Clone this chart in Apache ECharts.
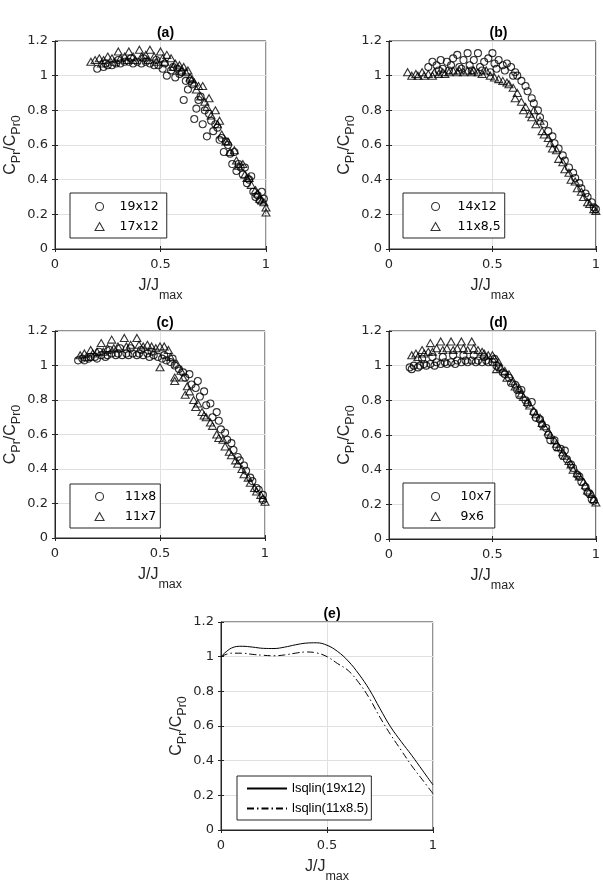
<!DOCTYPE html>
<html>
<head>
<meta charset="utf-8">
<script src="https://cdn.jsdelivr.net/npm/echarts@6/dist/echarts.min.js"></script>
<style>
  html, body { margin: 0; padding: 0; background: #fff; }
  #main { width: 603px; height: 884px; }
</style>
</head>
<body>
<div id="main"></div>
<script>
// panel (a)
var a_19x12 = [[0.20,1.04],[0.23,1.05],[0.24,1.07],[0.25,1.06],[0.27,1.06],[0.29,1.07],[0.30,1.09],[0.31,1.07],[0.33,1.08],[0.35,1.08],[0.36,1.10],[0.37,1.07],[0.39,1.08],[0.41,1.07],[0.42,1.10],[0.43,1.08],[0.45,1.07],[0.47,1.06],[0.48,1.09],[0.49,1.06],[0.51,1.04],[0.52,1.07],[0.53,1.00],[0.55,1.03],[0.56,1.05],[0.57,0.99],[0.58,1.04],[0.59,1.01],[0.60,1.02],[0.61,0.86],[0.62,0.97],[0.63,0.92],[0.64,0.97],[0.65,0.95],[0.66,0.75],[0.67,0.81],[0.68,0.86],[0.69,0.88],[0.70,0.72],[0.71,0.80],[0.72,0.65],[0.73,0.78],[0.74,0.74],[0.75,0.68],[0.76,0.72],[0.77,0.70],[0.78,0.63],[0.79,0.64],[0.80,0.56],[0.81,0.62],[0.82,0.60],[0.83,0.55],[0.84,0.49],[0.85,0.56],[0.86,0.45],[0.87,0.49],[0.88,0.47],[0.89,0.43],[0.90,0.47],[0.91,0.38],[0.92,0.40],[0.93,0.42],[0.94,0.33],[0.95,0.30],[0.96,0.31],[0.97,0.28],[0.98,0.33],[0.99,0.29]];
var a_17x12 = [[0.17,1.08],[0.19,1.09],[0.21,1.10],[0.22,1.07],[0.23,1.09],[0.25,1.11],[0.27,1.10],[0.28,1.08],[0.30,1.14],[0.31,1.10],[0.33,1.11],[0.34,1.09],[0.35,1.14],[0.37,1.11],[0.38,1.09],[0.40,1.15],[0.41,1.11],[0.43,1.12],[0.44,1.09],[0.45,1.15],[0.47,1.11],[0.48,1.08],[0.50,1.14],[0.51,1.10],[0.52,1.08],[0.53,1.12],[0.55,1.10],[0.56,1.05],[0.57,1.07],[0.59,1.06],[0.60,1.03],[0.61,1.05],[0.62,1.02],[0.63,1.03],[0.64,0.99],[0.65,0.98],[0.66,0.96],[0.67,0.92],[0.68,0.94],[0.69,0.88],[0.70,0.94],[0.71,0.85],[0.72,0.82],[0.73,0.87],[0.74,0.77],[0.76,0.80],[0.77,0.72],[0.78,0.74],[0.79,0.66],[0.81,0.62],[0.82,0.62],[0.83,0.56],[0.85,0.57],[0.86,0.51],[0.87,0.48],[0.89,0.49],[0.90,0.43],[0.91,0.41],[0.92,0.41],[0.93,0.37],[0.95,0.34],[0.96,0.32],[0.97,0.29],[0.98,0.28],[0.99,0.27],[1.00,0.24],[1.00,0.21]];

// panel (b)
var b_14x12 = [[0.19,1.05],[0.21,1.08],[0.23,1.06],[0.24,1.03],[0.25,1.09],[0.26,1.04],[0.28,1.08],[0.29,1.03],[0.30,1.06],[0.31,1.10],[0.33,1.12],[0.34,1.05],[0.35,1.04],[0.36,1.09],[0.38,1.13],[0.39,1.06],[0.40,1.03],[0.41,1.09],[0.43,1.13],[0.44,1.05],[0.45,1.03],[0.46,1.08],[0.48,1.10],[0.49,1.02],[0.50,1.13],[0.51,1.07],[0.52,1.04],[0.53,1.09],[0.55,1.06],[0.56,1.03],[0.57,1.07],[0.59,1.05],[0.60,1.00],[0.61,1.02],[0.62,1.00],[0.64,0.97],[0.66,0.94],[0.67,0.91],[0.69,0.87],[0.70,0.84],[0.72,0.80],[0.73,0.76],[0.75,0.72],[0.77,0.68],[0.79,0.65],[0.80,0.61],[0.82,0.58],[0.84,0.54],[0.85,0.51],[0.87,0.47],[0.89,0.44],[0.90,0.41],[0.92,0.38],[0.93,0.35],[0.95,0.32],[0.96,0.30],[0.98,0.27],[0.99,0.24],[1.00,0.23]];
var b_11x85 = [[0.09,1.02],[0.11,1.00],[0.13,1.01],[0.14,1.00],[0.16,1.02],[0.17,1.00],[0.19,1.01],[0.21,1.00],[0.22,1.02],[0.24,1.01],[0.26,1.02],[0.27,1.01],[0.29,1.02],[0.31,1.03],[0.33,1.02],[0.34,1.03],[0.36,1.02],[0.38,1.03],[0.40,1.02],[0.41,1.03],[0.43,1.02],[0.45,1.01],[0.47,1.03],[0.49,1.00],[0.51,0.99],[0.53,0.98],[0.55,0.97],[0.57,0.96],[0.58,0.95],[0.60,0.93],[0.61,0.87],[0.62,0.90],[0.64,0.85],[0.65,0.80],[0.66,0.82],[0.68,0.78],[0.69,0.76],[0.70,0.80],[0.71,0.72],[0.73,0.74],[0.74,0.68],[0.75,0.66],[0.77,0.64],[0.78,0.61],[0.79,0.58],[0.81,0.57],[0.82,0.52],[0.84,0.50],[0.85,0.46],[0.87,0.44],[0.88,0.40],[0.90,0.39],[0.91,0.35],[0.93,0.33],[0.94,0.30],[0.96,0.27],[0.97,0.26],[0.99,0.23],[1.00,0.22]];

// panel (c)
var c_11x8 = [[0.11,1.03],[0.13,1.04],[0.14,1.03],[0.16,1.04],[0.17,1.05],[0.19,1.05],[0.20,1.04],[0.21,1.08],[0.22,1.06],[0.24,1.05],[0.25,1.06],[0.26,1.09],[0.27,1.07],[0.29,1.06],[0.30,1.07],[0.31,1.10],[0.32,1.06],[0.34,1.07],[0.35,1.06],[0.36,1.10],[0.37,1.07],[0.39,1.06],[0.40,1.07],[0.41,1.09],[0.42,1.06],[0.44,1.07],[0.45,1.05],[0.46,1.08],[0.47,1.06],[0.49,1.05],[0.51,1.04],[0.52,1.06],[0.53,1.03],[0.55,1.02],[0.56,1.04],[0.57,1.00],[0.59,0.98],[0.61,0.96],[0.62,0.93],[0.64,0.95],[0.65,0.89],[0.67,0.87],[0.68,0.91],[0.69,0.82],[0.71,0.85],[0.72,0.77],[0.74,0.78],[0.75,0.70],[0.77,0.73],[0.78,0.68],[0.79,0.63],[0.81,0.61],[0.82,0.57],[0.84,0.55],[0.85,0.51],[0.87,0.47],[0.88,0.45],[0.90,0.42],[0.91,0.39],[0.93,0.35],[0.94,0.33],[0.96,0.29],[0.97,0.28],[0.99,0.25],[0.99,0.22]];
var c_11x7 = [[0.12,1.06],[0.14,1.07],[0.15,1.05],[0.17,1.09],[0.18,1.07],[0.20,1.08],[0.22,1.13],[0.23,1.08],[0.25,1.10],[0.27,1.15],[0.28,1.10],[0.30,1.11],[0.33,1.16],[0.34,1.11],[0.36,1.12],[0.39,1.16],[0.40,1.12],[0.42,1.11],[0.44,1.12],[0.46,1.11],[0.48,1.10],[0.50,0.99],[0.50,1.11],[0.52,1.11],[0.54,1.09],[0.55,1.05],[0.57,0.91],[0.57,0.93],[0.58,1.01],[0.60,0.97],[0.61,0.93],[0.62,0.83],[0.63,0.88],[0.64,0.85],[0.66,0.80],[0.67,0.76],[0.68,0.78],[0.70,0.73],[0.71,0.71],[0.72,0.70],[0.74,0.67],[0.75,0.65],[0.77,0.60],[0.78,0.58],[0.80,0.57],[0.81,0.53],[0.83,0.50],[0.84,0.48],[0.86,0.45],[0.87,0.43],[0.89,0.40],[0.90,0.37],[0.92,0.35],[0.93,0.32],[0.95,0.29],[0.96,0.27],[0.98,0.25],[0.99,0.23],[1.00,0.21]];

// panel (d)
var d_10x7 = [[0.10,0.99],[0.11,0.98],[0.12,1.00],[0.14,0.99],[0.15,1.00],[0.16,1.04],[0.17,1.01],[0.18,1.00],[0.20,1.01],[0.21,1.05],[0.22,1.00],[0.23,1.02],[0.25,1.01],[0.26,1.05],[0.27,1.02],[0.28,1.01],[0.30,1.02],[0.31,1.06],[0.32,1.01],[0.33,1.03],[0.35,1.02],[0.36,1.06],[0.37,1.03],[0.38,1.02],[0.40,1.03],[0.41,1.06],[0.42,1.02],[0.43,1.03],[0.45,1.02],[0.46,1.05],[0.47,1.03],[0.48,1.02],[0.50,1.02],[0.51,1.04],[0.52,1.00],[0.53,0.99],[0.55,0.96],[0.56,0.95],[0.58,0.93],[0.59,0.90],[0.61,0.89],[0.62,0.86],[0.63,0.83],[0.64,0.86],[0.66,0.80],[0.67,0.78],[0.69,0.79],[0.70,0.73],[0.71,0.70],[0.73,0.69],[0.74,0.66],[0.76,0.64],[0.77,0.60],[0.78,0.57],[0.80,0.57],[0.81,0.53],[0.83,0.52],[0.84,0.48],[0.85,0.51],[0.86,0.46],[0.88,0.43],[0.89,0.41],[0.91,0.37],[0.92,0.36],[0.93,0.33],[0.95,0.30],[0.96,0.27],[0.97,0.26],[0.98,0.23],[0.99,0.22]];
var d_9x6 = [[0.11,1.06],[0.13,1.07],[0.14,1.05],[0.16,1.09],[0.17,1.07],[0.19,1.08],[0.20,1.13],[0.21,1.08],[0.23,1.10],[0.25,1.14],[0.26,1.09],[0.28,1.10],[0.30,1.14],[0.31,1.09],[0.33,1.10],[0.35,1.14],[0.36,1.10],[0.38,1.09],[0.40,1.14],[0.41,1.10],[0.43,1.09],[0.45,1.08],[0.46,1.07],[0.48,1.06],[0.50,1.06],[0.51,1.04],[0.52,0.98],[0.53,1.02],[0.54,0.99],[0.56,0.97],[0.57,0.93],[0.58,0.95],[0.60,0.91],[0.61,0.88],[0.63,0.87],[0.64,0.84],[0.65,0.82],[0.67,0.79],[0.68,0.77],[0.70,0.74],[0.71,0.72],[0.73,0.70],[0.74,0.67],[0.75,0.65],[0.77,0.62],[0.78,0.60],[0.80,0.57],[0.81,0.55],[0.82,0.53],[0.84,0.50],[0.85,0.48],[0.87,0.45],[0.88,0.43],[0.89,0.40],[0.91,0.38],[0.92,0.36],[0.94,0.33],[0.95,0.31],[0.96,0.28],[0.98,0.26],[0.99,0.23],[1.00,0.21]];

// panel (e) fitted curves
var e_x = [0, 0.05, 0.1, 0.15, 0.2, 0.25, 0.3, 0.35, 0.4, 0.45, 0.5, 0.55, 0.6, 0.65, 0.7, 0.75, 0.8, 0.85, 0.9, 0.95, 1];
var e_19x12 = [1.00, 1.05, 1.06, 1.055, 1.048, 1.047, 1.055, 1.068, 1.078, 1.08, 1.066, 1.03, 0.975, 0.90, 0.81, 0.70, 0.595, 0.51, 0.43, 0.345, 0.26];
var e_11x85 = [1.00, 1.02, 1.02, 1.013, 1.008, 1.005, 1.01, 1.02, 1.027, 1.022, 1.00, 0.96, 0.92, 0.85, 0.76, 0.65, 0.55, 0.46, 0.37, 0.29, 0.21];

var ink = '#262626';
var gridBoxes = [
    {left: 55, top: 41, width: 211, height: 208},
    {left: 389, top: 41, width: 209, height: 208},
    {left: 55, top: 331, width: 210, height: 207},
    {left: 389, top: 331, width: 209, height: 208},
    {left: 221, top: 622, width: 212, height: 210}
];
var panelTitles = ['(a)', '(b)', '(c)', '(d)', '(e)'];

function zip(xs, ys) {
    var out = [];
    for (var i = 0; i < xs.length; i++)
        out.push([xs[i], ys[i]]);
    return out;
}

function scatter(name, data, symbol, idx) {
    return {
        name: name,
        type: 'scatter',
        xAxisIndex: idx,
        yAxisIndex: idx,
        data: data,
        symbol: symbol,
        symbolSize: symbol == 'circle' ? 7 : [8, 7],
        itemStyle: {color: 'rgba(0,0,0,0)', borderColor: '#000', borderWidth: 1.1},
        emphasis: {disabled: true}
    };
}

// legend box with the marker in a small slot, text pushed right
function markerLegend(names, left, top, padding, textGap) {
    var icons = ['circle', 'triangle'];
    return {
        orient: 'vertical',
        left: left,
        top: top,
        padding: padding,
        itemGap: 7,
        itemWidth: 9,
        itemHeight: 8,
        backgroundColor: '#fff',
        borderColor: ink,
        borderWidth: 1,
        borderRadius: 0,
        selectedMode: false,
        textStyle: {fontFamily: 'DejaVu Sans', fontSize: 12.5, color: '#000', padding: [0, 0, 0, textGap]},
        data: names.map(function (n, i) {
            return {name: n, icon: icons[i], itemStyle: {color: 'rgba(0,0,0,0)', borderColor: '#000', borderWidth: 1.1}};
        })
    };
}

var option = {
    backgroundColor: '#fff',
    animation: false,
    title: [],
    grid: [],
    xAxis: [],
    yAxis: [],
    legend: [
        markerLegend(['19x12', '17x12'], 70, 193, [7, 8, 5, 24.5], 10.5),
        markerLegend(['14x12', '11x8,5'], 403, 193, [7, 4, 5, 27.5], 12.5),
        markerLegend(['11x8', '11x7'], 70, 484, [6, 4, 5, 24.5], 16),
        markerLegend(['10x7', '9x6'], 403, 483, [7, 3, 5, 27.5], 15.5),
        {
            orient: 'vertical',
            left: 237,
            top: 776,
            padding: [6, 3, 5, 9],
            itemGap: 7,
            itemWidth: 40,
            itemHeight: 10,
            backgroundColor: '#fff',
            borderColor: ink,
            borderWidth: 1,
            selectedMode: false,
            textStyle: {fontFamily: 'Liberation Sans', fontSize: 13, color: '#000'},
            data: [
                {name: 'lsqlin(19x12)', itemStyle: {opacity: 0}},
                {name: 'lsqlin(11x8.5)', itemStyle: {opacity: 0}}
            ]
        }
    ],
    series: [
        scatter('19x12', a_19x12, 'circle', 0),
        scatter('17x12', a_17x12, 'triangle', 0),
        scatter('14x12', b_14x12, 'circle', 1),
        scatter('11x8,5', b_11x85, 'triangle', 1),
        scatter('11x8', c_11x8, 'circle', 2),
        scatter('11x7', c_11x7, 'triangle', 2),
        scatter('10x7', d_10x7, 'circle', 3),
        scatter('9x6', d_9x6, 'triangle', 3),
        {
            name: 'lsqlin(19x12)',
            type: 'line',
            xAxisIndex: 4,
            yAxisIndex: 4,
            data: zip(e_x, e_19x12),
            smooth: 0.4,
            symbol: 'none',
            itemStyle: {color: '#000'},
            lineStyle: {color: '#000', width: 1}
        },
        {
            name: 'lsqlin(11x8.5)',
            type: 'line',
            xAxisIndex: 4,
            yAxisIndex: 4,
            data: zip(e_x, e_11x85),
            smooth: 0.4,
            symbol: 'none',
            itemStyle: {color: '#000'},
            lineStyle: {color: '#000', width: 1, type: [7, 3, 1.5, 3]}
        }
    ]
};

for (var i = 0; i < gridBoxes.length; i++) {
    var g = gridBoxes[i];
    option.grid.push({
        left: g.left, top: g.top, width: g.width, height: g.height,
        show: true, borderColor: ink, borderWidth: 1, backgroundColor: 'transparent'
    });
    option.title.push({
        text: panelTitles[i],
        left: g.left + g.width / 2,
        top: g.top - 20,
        textAlign: 'center',
        textStyle: {fontFamily: 'Liberation Sans', fontSize: 14, fontWeight: 'bold', color: '#000'}
    });
    option.xAxis.push({
        type: 'value',
        gridIndex: i,
        min: 0,
        max: 1,
        interval: 0.5,
        name: '{m|J/J}{s|max}',
        nameLocation: 'middle',
        nameGap: 21,
        nameTextStyle: {
            color: ink,
            rich: {
                m: {fontFamily: 'Liberation Sans', fontSize: 16, color: ink},
                s: {fontFamily: 'Liberation Sans', fontSize: 12.5, color: ink, padding: [19, 0, 0, 0]}
            }
        },
        axisLine: {show: true, lineStyle: {color: ink}},
        axisTick: {show: true, inside: true, length: 3, lineStyle: {color: ink}},
        axisLabel: {margin: 9, color: ink, fontFamily: 'DejaVu Sans', fontSize: 13},
        splitLine: {show: true, lineStyle: {color: '#e0e0e0'}}
    });
    option.yAxis.push({
        type: 'value',
        gridIndex: i,
        min: 0,
        max: 1.2,
        interval: 0.2,
        name: '{m|C}{s|Pr}{m|/C}{s|Pr0}',
        nameLocation: 'middle',
        nameGap: 32,
        nameTextStyle: {
            color: ink,
            rich: {
                m: {fontFamily: 'Liberation Sans', fontSize: 16, color: ink},
                s: {fontFamily: 'Liberation Sans', fontSize: 12.5, color: ink, padding: [12, 0, 0, 0]}
            }
        },
        axisLine: {show: true, lineStyle: {color: ink}},
        axisTick: {show: true, inside: true, length: 3, lineStyle: {color: ink}},
        axisLabel: {margin: 7, color: ink, fontFamily: 'DejaVu Sans', fontSize: 13},
        splitLine: {show: true, lineStyle: {color: '#e0e0e0'}}
    });
}

// mirrored ticks on the top and right edges of each box
for (var i = 0; i < gridBoxes.length; i++) {
    option.xAxis.push({
        type: 'value', gridIndex: i, position: 'top', min: 0, max: 1, interval: 0.5,
        axisLine: {show: false},
        axisTick: {show: true, inside: true, length: 3, lineStyle: {color: ink}},
        axisLabel: {show: false},
        splitLine: {show: false}
    });
    option.yAxis.push({
        type: 'value', gridIndex: i, position: 'right', min: 0, max: 1.2, interval: 0.2,
        axisLine: {show: false},
        axisTick: {show: true, inside: true, length: 3, lineStyle: {color: ink}},
        axisLabel: {show: false},
        splitLine: {show: false}
    });
}

var chart = echarts.init(document.getElementById('main'));
chart.setOption(option);
</script>
</body>
</html>
